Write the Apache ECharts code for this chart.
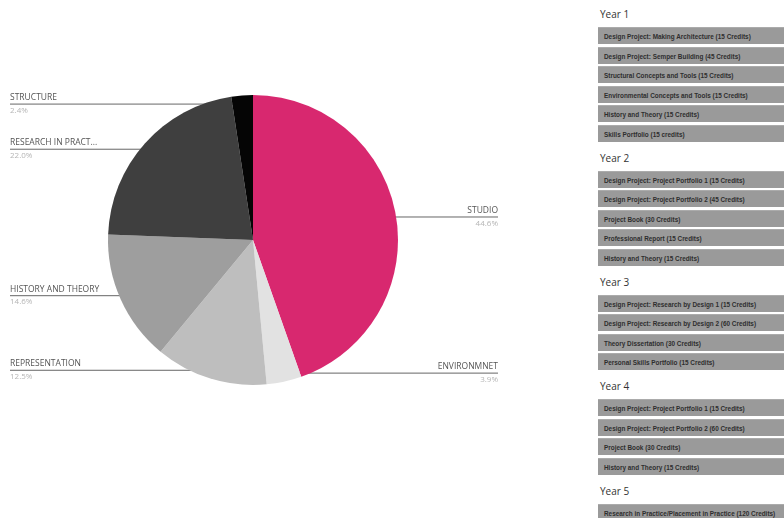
<!DOCTYPE html>
<html>
<head>
<meta charset="utf-8">
<script src="https://cdn.jsdelivr.net/npm/echarts@6/dist/echarts.min.js"></script>
<style>
  html, body { margin: 0; padding: 0; background: #fff; width: 784px; height: 518px; overflow: hidden; font-family: "Open Sans", "Noto Sans", sans-serif; }
  #chart { position: absolute; left: 0; top: 0; width: 508px; height: 518px; }
  #modules { position: absolute; left: 598px; top: 0; width: 186px; }
  .year { font-size: 10px; color: #333; margin: 10px 0 7px 2px; height: 12px; line-height: 12px; }
  .year:first-child { margin-top: 8px; }
  .mod { height: 17px; line-height: 17px; margin-bottom: 2.5px; background: #9a9a9a; border-top: 1px solid #ababab;
         box-sizing: border-box; font-family: "Liberation Sans", Arial, sans-serif; font-size: 6.4px; font-weight: bold;
         color: #2e2e2e; padding-left: 6px; white-space: nowrap; overflow: hidden; }
</style>
</head>
<body>
<div id="chart"></div>
<div id="modules"></div>
<script>
// Share of the course by subject area (percent)
const areas = ['STUDIO', 'ENVIRONMNET', 'REPRESENTATION', 'HISTORY AND THEORY', 'RESEARCH IN PRACT...', 'STRUCTURE'];
const shares = [44.6, 3.9, 12.5, 14.6, 22.0, 2.4];
const areaColors = ['#d8286f', '#e2e2e2', '#bebebe', '#9e9e9e', '#3f3f3f', '#050505'];

// Modules per year
const yearNames = ['Year 1', 'Year 2', 'Year 3', 'Year 4', 'Year 5'];
const year1 = [
  'Design Project: Making Architecture (15 Credits)',
  'Design Project: Semper Building (45 Credits)',
  'Structural Concepts and Tools (15 Credits)',
  'Environmental Concepts and Tools (15 Credits)',
  'History and Theory (15 Credits)',
  'Skills Portfolio (15 credits)'
];
const year2 = [
  'Design Project: Project Portfolio 1 (15 Credits)',
  'Design Project: Project Portfolio 2 (45 Credits)',
  'Project Book (30 Credits)',
  'Professional Report (15 Credits)',
  'History and Theory (15 Credits)'
];
const year3 = [
  'Design Project: Research by Design 1 (15 Credits)',
  'Design Project: Research by Design 2 (60 Credits)',
  'Theory Dissertation (30 Credits)',
  'Personal Skills Portfolio (15 Credits)'
];
const year4 = [
  'Design Project: Project Portfolio 1 (15 Credits)',
  'Design Project: Project Portfolio 2 (60 Credits)',
  'Project Book (30 Credits)',
  'History and Theory (15 Credits)'
];
const year5 = [
  'Research in Practice/Placement in Practice (120 Credits)'
];
const yearModules = [year1, year2, year3, year4, year5];

// Module list
const list = document.getElementById('modules');
yearNames.forEach((y, i) => {
  const h = document.createElement('div');
  h.className = 'year';
  h.textContent = y;
  list.appendChild(h);
  yearModules[i].forEach(m => {
    const d = document.createElement('div');
    d.className = 'mod';
    d.textContent = m;
    list.appendChild(d);
  });
});

// Pie chart
const CX = 253, CY = 240, R = 145;
const chart = echarts.init(document.getElementById('chart'));
chart.setOption({
  animation: false,
  series: [{
    type: 'pie',
    center: [CX, CY],
    radius: R,
    startAngle: 90,
    clockwise: true,
    data: areas.map((n, i) => ({ name: n, value: shares[i], itemStyle: { color: areaColors[i] } })),
    label: {
      alignTo: 'edge',
      edgeDistance: 10,
      minMargin: 5,
      lineHeight: 13,
      formatter: p => '{name|' + p.name + '}\n{pct|' + p.percent.toFixed(1) + '%}',
      rich: {
        name: { fontFamily: 'Open Sans', fontSize: 8.5, color: '#555', lineHeight: 13 },
        pct: { fontFamily: 'Open Sans', fontSize: 8, color: '#b5b5b5', lineHeight: 13 }
      }
    },
    labelLine: {
      length: 0,
      length2: 0,
      maxSurfaceAngle: 80,
      lineStyle: { color: '#666', width: 1 }
    },
    // Leader lines start just inside the slice and run straight across to the label edge
    labelLayout: function (params) {
      const isLeft = params.labelRect.x < chart.getWidth() / 2;
      const pts = params.labelLinePoints;
      const k = 0.94;
      const px = CX + (pts[0][0] - CX) * k;
      const py = CY + (pts[0][1] - CY) * k;
      const midY = params.labelRect.y + params.labelRect.height / 2;
      const edgeX = isLeft ? params.labelRect.x : params.labelRect.x + params.labelRect.width;
      return {
        dy: py - midY,
        labelLinePoints: [[px, py], [px, py], [edgeX, py]]
      };
    }
  }]
});
</script>
</body>
</html>
